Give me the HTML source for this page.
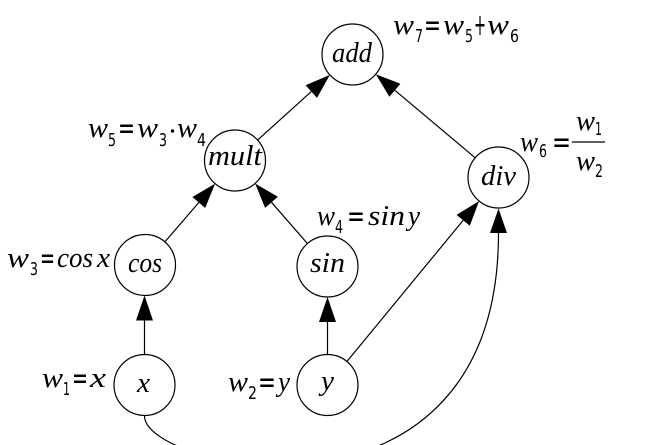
<!DOCTYPE html>
<html>
<head>
<meta charset="utf-8">
<style>
  html, body { margin:0; padding:0; background:#fff; }
  svg { display:block; }
  .m { font-family:"Liberation Serif", serif; font-style:italic; font-size:29px; fill:#000; }
  .s { font-family:"DejaVu Sans", "Liberation Sans", sans-serif; font-size:18px; fill:#000; }
  .o { font-family:"DejaVu Sans", "Liberation Sans", sans-serif; font-size:30px; fill:#000; }
</style>
</head>
<body>
<svg width="649" height="445" viewBox="0 0 649 445" xmlns="http://www.w3.org/2000/svg">
  <rect width="649" height="445" fill="#fff"/>
  <g fill="none" stroke="#000" stroke-width="1.2">
    <!-- nodes -->
    <circle cx="352.5" cy="54.5" r="30.5"/>
    <circle cx="235" cy="160.5" r="30.5"/>
    <circle cx="498.5" cy="177.5" r="30.5"/>
    <circle cx="145" cy="265" r="30.5"/>
    <circle cx="327.5" cy="266.5" r="30.5"/>
    <circle cx="144.5" cy="385" r="30.5"/>
    <circle cx="327.5" cy="385" r="30.5"/>
    <!-- edges -->
    <line x1="144.5" y1="354.5" x2="144.5" y2="320.5"/>
    <line x1="327.5" y1="354.5" x2="327.5" y2="322"/>
    <line x1="164.9" y1="241.9" x2="198.8" y2="202.5"/>
    <line x1="307.4" y1="243.5" x2="271.5" y2="202.3"/>
    <line x1="257.6" y1="140.1" x2="311.3" y2="91.6"/>
    <line x1="475.2" y1="157.8" x2="394.9" y2="90.3"/>
    <line x1="346.9" y1="361.5" x2="463.2" y2="220.3"/>
    <path d="M144.5,416 C144.5,470 498.5,545 498.5,233"/>
  </g>
  <g fill="#000" stroke="none">
    <polygon points="144.5,295.5 136,320.5 153,320.5"/>
    <polygon points="327.5,297 319,322 336,322"/>
    <polygon points="215.1,183.6 205.2,208.0 192.4,197.0"/>
    <polygon points="255.1,183.5 277.9,196.7 265.1,207.9"/>
    <polygon points="329.9,74.9 317.0,97.9 305.6,85.3"/>
    <polygon points="375.8,74.2 400.4,83.8 389.4,96.8"/>
    <polygon points="479.1,201.0 469.8,225.7 456.6,214.9"/>
    <polygon points="498.5,208.5 490,233 507,233"/>
  </g>

  <!-- node labels -->
  <text class="m" x="332" y="62" textLength="40" lengthAdjust="spacingAndGlyphs">add</text>
  <text class="m" x="208" y="165" textLength="54" lengthAdjust="spacingAndGlyphs">mult</text>
  <text class="m" x="481" y="185" textLength="35" lengthAdjust="spacingAndGlyphs">div</text>
  <text class="m" x="128" y="272" textLength="34" lengthAdjust="spacingAndGlyphs">cos</text>
  <text class="m" x="310" y="272" textLength="35" lengthAdjust="spacingAndGlyphs">sin</text>
  <text class="m" x="137" y="392" textLength="13" lengthAdjust="spacingAndGlyphs">x</text>
  <text class="m" x="321" y="390" textLength="13" lengthAdjust="spacingAndGlyphs">y</text>

  <!-- w7 = w5 + w6 -->
  <text class="m" x="393" y="34" textLength="21" lengthAdjust="spacingAndGlyphs">w</text>
  <text class="s" x="415" y="42" textLength="8" lengthAdjust="spacingAndGlyphs">7</text>
  <text class="o" x="424" y="35" textLength="17" lengthAdjust="spacingAndGlyphs">=</text>
  <text class="m" x="443" y="34" textLength="21" lengthAdjust="spacingAndGlyphs">w</text>
  <text class="s" x="465" y="42" textLength="8" lengthAdjust="spacingAndGlyphs">5</text>
  <text class="o" x="474" y="35" textLength="12" lengthAdjust="spacingAndGlyphs">+</text>
  <text class="m" x="487" y="34" textLength="22" lengthAdjust="spacingAndGlyphs">w</text>
  <text class="s" x="510" y="42" textLength="9" lengthAdjust="spacingAndGlyphs">6</text>

  <!-- w5 = w3 · w4 -->
  <text class="m" x="88" y="137" textLength="20" lengthAdjust="spacingAndGlyphs">w</text>
  <text class="s" x="108" y="146" textLength="8" lengthAdjust="spacingAndGlyphs">5</text>
  <text class="o" x="118" y="138" textLength="17" lengthAdjust="spacingAndGlyphs">=</text>
  <text class="m" x="137" y="137" textLength="21" lengthAdjust="spacingAndGlyphs">w</text>
  <text class="s" x="159" y="146" textLength="8" lengthAdjust="spacingAndGlyphs">3</text>
  <circle cx="172.5" cy="131" r="1.7" fill="#000"/>
  <text class="m" x="177" y="137" textLength="20" lengthAdjust="spacingAndGlyphs">w</text>
  <text class="s" x="197" y="146" textLength="9" lengthAdjust="spacingAndGlyphs">4</text>

  <!-- w6 = w1 / w2 -->
  <text class="m" x="520" y="151" textLength="18" lengthAdjust="spacingAndGlyphs">w</text>
  <text class="s" x="539" y="157" textLength="8" lengthAdjust="spacingAndGlyphs">6</text>
  <text class="o" x="552" y="152" textLength="19" lengthAdjust="spacingAndGlyphs">=</text>
  <line x1="572" y1="142" x2="605" y2="142" stroke="#000" stroke-width="1.2"/>
  <text class="m" x="576" y="130" textLength="19" lengthAdjust="spacingAndGlyphs">w</text>
  <text class="s" x="595" y="135" textLength="7" lengthAdjust="spacingAndGlyphs">1</text>
  <text class="m" x="576" y="170" textLength="19" lengthAdjust="spacingAndGlyphs">w</text>
  <text class="s" x="595" y="177" textLength="8" lengthAdjust="spacingAndGlyphs">2</text>

  <!-- w4 = sin y -->
  <text class="m" x="317" y="225" textLength="18" lengthAdjust="spacingAndGlyphs">w</text>
  <text class="s" x="335" y="233" textLength="8" lengthAdjust="spacingAndGlyphs">4</text>
  <text class="o" x="347" y="226" textLength="18" lengthAdjust="spacingAndGlyphs">=</text>
  <text class="m" x="368" y="225" textLength="37" lengthAdjust="spacingAndGlyphs">sin</text>
  <text class="m" x="408" y="225" textLength="12" lengthAdjust="spacingAndGlyphs">y</text>

  <!-- w3 = cos x -->
  <text class="m" x="7" y="267" textLength="22" lengthAdjust="spacingAndGlyphs">w</text>
  <text class="s" x="30" y="275" textLength="8" lengthAdjust="spacingAndGlyphs">3</text>
  <text class="o" x="40" y="268" textLength="15" lengthAdjust="spacingAndGlyphs">=</text>
  <text class="m" x="57" y="267" textLength="36" lengthAdjust="spacingAndGlyphs">cos</text>
  <text class="m" x="97" y="267" textLength="13" lengthAdjust="spacingAndGlyphs">x</text>

  <!-- w1 = x -->
  <text class="m" x="42" y="387" textLength="21" lengthAdjust="spacingAndGlyphs">w</text>
  <text class="s" x="63" y="395" textLength="7" lengthAdjust="spacingAndGlyphs">1</text>
  <text class="o" x="72" y="388" textLength="16" lengthAdjust="spacingAndGlyphs">=</text>
  <text class="m" x="90" y="387" textLength="16" lengthAdjust="spacingAndGlyphs">x</text>

  <!-- w2 = y -->
  <text class="m" x="228" y="391" textLength="20" lengthAdjust="spacingAndGlyphs">w</text>
  <text class="s" x="248" y="399" textLength="9" lengthAdjust="spacingAndGlyphs">2</text>
  <text class="o" x="258" y="392" textLength="18" lengthAdjust="spacingAndGlyphs">=</text>
  <text class="m" x="278" y="391" textLength="12" lengthAdjust="spacingAndGlyphs">y</text>
</svg>
</body>
</html>
